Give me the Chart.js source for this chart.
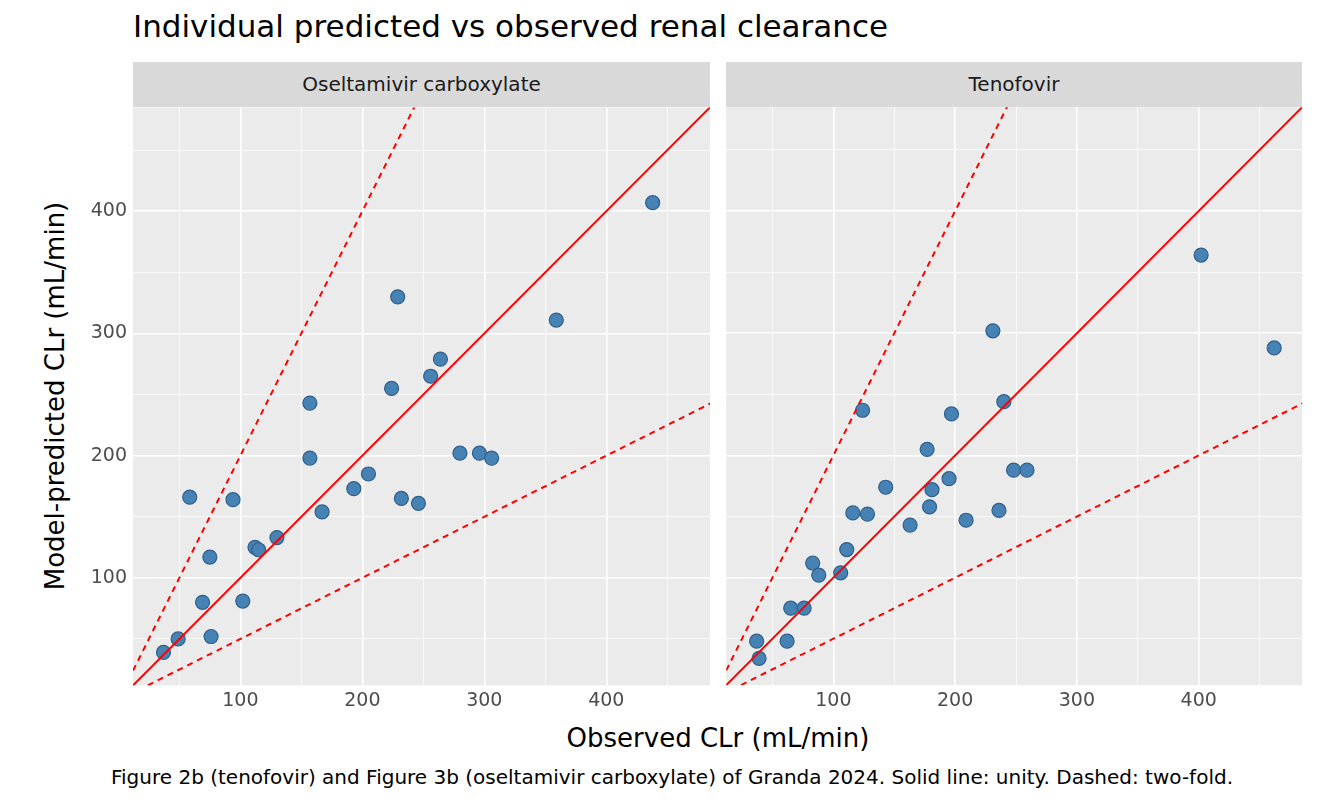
<!DOCTYPE html>
<html><head><meta charset="utf-8">
<script src="https://cdn.jsdelivr.net/npm/chart.js@4"></script>
<style>
body{margin:0;width:1344px;height:806px;background:#fff;font-family:"DejaVu Sans",sans-serif;position:relative;overflow:hidden}
.abs{position:absolute}
.strip{background:#D9D9D9;color:#1a1a1a;font-size:20px;text-align:center;line-height:45px;height:45px;top:62px}
</style></head><body>
<div class="abs" style="left:133px;top:8px;font-size:31px;color:#000;white-space:nowrap">Individual predicted vs observed renal clearance</div>
<div class="abs strip" style="left:133px;width:577px">Oseltamivir carboxylate</div>
<div class="abs strip" style="left:726px;width:576px">Tenofovir</div>
<div class="abs" style="left:718px;top:738px;font-size:26px;color:#000;white-space:nowrap;transform:translate(-50%,-50%)">Observed CLr (mL/min)</div>
<div class="abs" style="left:55px;top:396px;font-size:26px;color:#000;transform:translate(-50%,-50%) rotate(-90deg);white-space:nowrap">Model-predicted CLr (mL/min)</div>
<div class="abs" style="left:672px;top:777px;font-size:20px;color:#000;white-space:nowrap;transform:translate(-50%,-50%)">Figure 2b (tenofovir) and Figure 3b (oseltamivir carboxylate) of Granda 2024. Solid line: unity. Dashed: two-fold.</div>
<div class="abs" id="w1" style="left:80px;top:107px;width:630px;height:613px"><canvas id="c1"></canvas></div>
<div class="abs" id="w2" style="left:726px;top:107px;width:576px;height:613px"><canvas id="c2"></canvas></div>
<script>
const oseltamivirObs = [37,49,58.5,69,75,76,94,102,112,115,130,157,157,167,193,205,224,229,232,246,256,264,280,296,306,359,438];
const oseltamivirPred = [39,50,166,80,117,52,164,81,125,123,133,243,198,154,173,185,255,330,165,161,265,279,202,202,198,311,407];
const tenofovirObs = [37,39,62,65,76,83,88,106,111,116,124,128,143,163,177,179,181,195,197,209,231,236,240,248,259,402,462];
const tenofovirPred = [48,34,48,75,75,112,102,104,123,153,237,152,174,143,205,158,172,181,234,147,302,155,244,188,188,364,288];
const lineX = [0, 500];
const axisMin = 12, axisMax = 485;
const tickStep = 50;

function mkChart(id, wid, target, obs, pred, showY){
  const pts = obs.map((x,i)=>({x, y:pred[i]}));
  const ln = f => lineX.map(x=>({x, y:f(x)}));
  const gridCfg = {color:'#fff', lineWidth: c => (c.tick && c.tick.value % 100 === 0) ? 1.6 : 0.7, drawTicks:false};
  const ch = new Chart(document.getElementById(id), {
    type:'scatter',
    data:{datasets:[
      {type:'line', data:ln(x=>x), borderColor:'#FF0000', borderWidth:2, pointRadius:0, fill:false},
      {type:'line', data:ln(x=>2*x), borderColor:'#FF0000', borderWidth:2, borderDash:[6,5], pointRadius:0, fill:false},
      {type:'line', data:ln(x=>0.5*x), borderColor:'#FF0000', borderWidth:2, borderDash:[6,5], pointRadius:0, fill:false},
      {data:pts, backgroundColor:'#4682B4', borderColor:'#2F5F8A', borderWidth:1.2, pointRadius:7}
    ]},
    options:{
      responsive:true, maintainAspectRatio:false, animation:false,
      layout:{padding:0},
      plugins:{legend:{display:false}, tooltip:{enabled:false}},
      scales:{
        x:{type:'linear', min:axisMin, max:axisMax, grid:gridCfg, border:{display:false},
           afterFit: s=>{s.height=35;},
           ticks:{stepSize:tickStep, includeBounds:false, padding:4, maxRotation:0, color:'#4d4d4d', font:{size:19,family:'DejaVu Sans'},
             callback:v=> v%100===0 ? v : ''}},
        y:{type:'linear', min:axisMin, max:axisMax, grid:gridCfg, border:{display:false},
           afterFit: s=>{s.width = showY ? 53 : 0;},
           ticks:{display:showY, stepSize:tickStep, includeBounds:false, padding:6, color:'#4d4d4d', font:{size:19,family:'DejaVu Sans'},
             callback:v=> v%100===0 ? v : ''}}
      }
    },
    plugins:[{id:'bg', beforeDraw(c){const a=c.chartArea, x=c.ctx; x.save(); x.fillStyle='#EBEBEB'; x.fillRect(a.left,a.top,a.right-a.left,a.bottom-a.top); x.restore();}}]
  });
  const w = document.getElementById(wid);
  for (let k=0;k<3;k++){
    const a = ch.chartArea;
    const L = parseFloat(w.style.left), T = parseFloat(w.style.top);
    const W = parseFloat(w.style.width), H = parseFloat(w.style.height);
    const nl = target.l - a.left, nt = target.t - a.top;
    const nw = W + (target.r - target.l) - (a.right - a.left);
    const nh = H + (target.b - target.t) - (a.bottom - a.top);
    w.style.left = nl+'px'; w.style.top = nt+'px'; w.style.width = nw+'px'; w.style.height = nh+'px';
    ch.resize();
  }
}
mkChart('c1','w1',{l:133,t:107,r:710,b:685}, oseltamivirObs, oseltamivirPred, true);
mkChart('c2','w2',{l:726,t:107,r:1302,b:685}, tenofovirObs, tenofovirPred, false);
</script>
</body></html>
